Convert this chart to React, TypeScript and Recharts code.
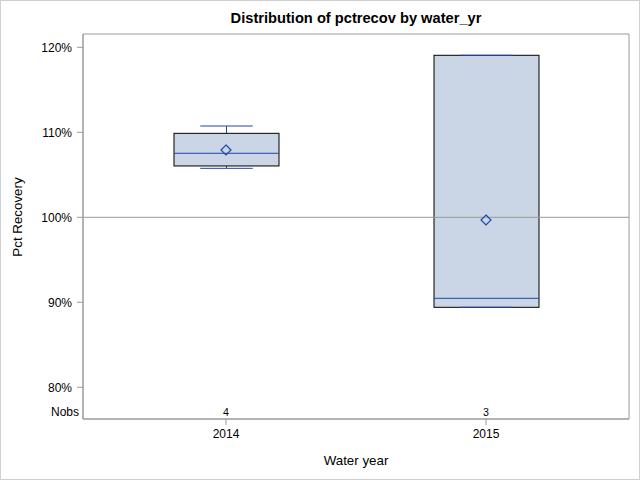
import React from 'react';
import {
  ComposedChart,
  Bar,
  Scatter,
  XAxis,
  YAxis,
  ReferenceLine,
  ReferenceArea,
} from 'recharts';

const years = ['2014', '2015'];
const whiskerLow = [105.76, 89.41];
const q1 = [106.04, 89.41];
const median = [107.53, 90.47];
const q3 = [109.88, 119.06];
const whiskerHigh = [110.74, 119.06];
const mean = [107.92, 99.68];
const nobs = [4, 3];
const yTicks = [80, 90, 100, 110, 120];

const Y_MIN = 76.27;
const Y_MAX = 121.565;
const X_MIN = -0.55;
const X_MAX = 1.55;
const NOBS_ROW = 77.1;

const FONT = '"Liberation Sans", Arial, sans-serif';
const BLUE = '#1f47a8';
const FILL = '#cad5e5';
const GRAY = '#9a9a9a';

const data = years.map((y, i) => ({
  idx: i,
  year: y,
  range: [whiskerLow[i], whiskerHigh[i]],
  wLow: whiskerLow[i],
  wHigh: whiskerHigh[i],
  q1: q1[i],
  q3: q3[i],
  median: median[i],
  mean: mean[i],
  nobs: nobs[i],
  nobsRow: NOBS_ROW,
}));

const BoxShape = (props: any) => {
  const { x, y, width, height, payload } = props;
  if (!payload) return null;
  const top = Math.min(y, y + height);
  const h = Math.abs(height);
  const span = payload.wHigh - payload.wLow;
  const k = span > 0 ? h / span : 0;
  const py = (v: number) => top + (payload.wHigh - v) * k;
  const cx = x + width / 2;
  const capHalf = width / 4;
  const yq3 = py(payload.q3);
  const yq1 = py(payload.q1);
  const ymed = py(payload.median);
  const yhi = py(payload.wHigh);
  const ylo = py(payload.wLow);
  return (
    <g>
      <line x1={cx} x2={cx} y1={yhi} y2={yq3} stroke={BLUE} strokeWidth={1} />
      <line x1={cx} x2={cx} y1={yq1} y2={ylo} stroke={BLUE} strokeWidth={1} />
      <rect x={x} y={yq3} width={width} height={yq1 - yq3} fill={FILL} stroke="#000" strokeWidth={1} />
      <line x1={cx - capHalf} x2={cx + capHalf} y1={yhi} y2={yhi} stroke={BLUE} strokeWidth={1} />
      <line x1={cx - capHalf} x2={cx + capHalf} y1={ylo} y2={ylo} stroke={BLUE} strokeWidth={1} />
      <line x1={x} x2={x + width} y1={ymed} y2={ymed} stroke={BLUE} strokeWidth={1} />
    </g>
  );
};

const Diamond = (props: any) => {
  const { cx, cy } = props;
  const r = 5;
  return (
    <path
      d={`M${cx},${cy - r} L${cx + r},${cy} L${cx},${cy + r} L${cx - r},${cy} Z`}
      fill="none"
      stroke={BLUE}
      strokeWidth={1.2}
    />
  );
};

const NobsText = (props: any) => {
  const { cx, cy, payload } = props;
  return (
    <text x={cx} y={cy} textAnchor="middle" dominantBaseline="central" fontSize={10.67} fontFamily={FONT} fill="#000">
      {payload.nobs}
    </text>
  );
};

const XLabel = (props: any) => {
  const vb = props.viewBox;
  return (
    <text x={vb.x + vb.width / 2} y={465} textAnchor="middle" fontSize={13.33} fontFamily={FONT} fill="#000">
      Water year
    </text>
  );
};

const YLabel = () => {
  return (
    <text
      x={0}
      y={0}
      transform={`translate(22, 217) rotate(-90)`}
      textAnchor="middle"
      fontSize={13.33}
      fontFamily={FONT}
      fill="#000"
    >
      Pct Recovery
    </text>
  );
};

export default function App() {
  return (
    <div style={{ position: 'absolute', left: 0, top: 0, width: 640, height: 480, background: '#fff', fontFamily: FONT }}>
      <ComposedChart
        width={640}
        height={480}
        data={data}
        margin={{ top: 34, right: 11, bottom: 0, left: 0 }}
      >
        <XAxis
          dataKey="idx"
          type="number"
          domain={[X_MIN, X_MAX]}
          ticks={[0, 1]}
          allowDataOverflow
          height={61}
          tickSize={6}
          tickMargin={4}
          stroke={GRAY}
          tick={{ fill: '#000', fontSize: 12, fontFamily: FONT }}
          tickFormatter={(v: number) => years[v] ?? ''}
          label={<XLabel />}
        />
        <YAxis
          type="number"
          domain={[Y_MIN, Y_MAX]}
          ticks={yTicks}
          allowDataOverflow
          width={83}
          tickSize={6}
          tickMargin={5}
          stroke={GRAY}
          tick={{ fill: '#000', fontSize: 12, fontFamily: FONT }}
          tickFormatter={(v: number) => `${v}%`}
          label={<YLabel />}
        />
        <ReferenceArea
          x1={X_MIN}
          x2={X_MAX}
          y1={Y_MIN}
          y2={Y_MAX}
          fill="none"
          fillOpacity={0}
          stroke={GRAY}
          strokeWidth={1}
          ifOverflow="visible"
        />
        <Bar dataKey="range" barSize={105} shape={<BoxShape />} isAnimationActive={false} />
        <ReferenceLine y={100} stroke={GRAY} strokeWidth={1} />
        <ReferenceLine
          y={NOBS_ROW}
          stroke="none"
          label={{ value: 'Nobs', position: 'left', offset: 4, fill: '#000', fontSize: 12, fontFamily: FONT }}
        />
        <Scatter dataKey="mean" shape={<Diamond />} isAnimationActive={false} />
        <Scatter dataKey="nobsRow" shape={<NobsText />} isAnimationActive={false} />
      </ComposedChart>
      <div
        style={{
          position: 'absolute',
          left: 0,
          top: 8,
          width: 640,
          textAlign: 'center',
          paddingLeft: 72,
          boxSizing: 'border-box',
          fontSize: 14.67,
          fontWeight: 'bold',
          fontFamily: FONT,
          lineHeight: '20px',
          color: '#000',
        }}
      >
        Distribution of pctrecov by water_yr
      </div>
      <div
        style={{
          position: 'absolute',
          left: 0,
          top: 0,
          width: 640,
          height: 480,
          boxSizing: 'border-box',
          border: '1px solid #d0d0d0',
          pointerEvents: 'none',
        }}
      />
    </div>
  );
}
